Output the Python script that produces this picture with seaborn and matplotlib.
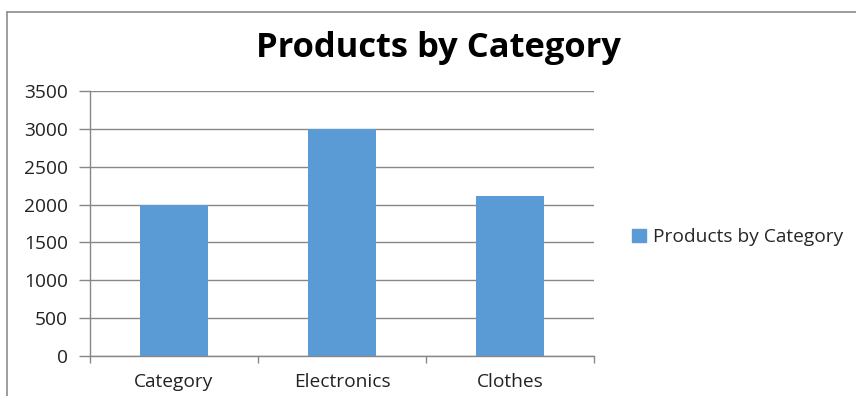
import matplotlib
matplotlib.use("Agg")
import matplotlib.pyplot as plt
import seaborn as sns
import pandas as pd
from matplotlib.lines import Line2D
from matplotlib.patches import Patch

categories = ["Category", "Electronics", "Clothes"]
values = [2000, 3000, 2110]
series_name = "Products by Category"
yticks = [0, 500, 1000, 1500, 2000, 2500, 3000, 3500]

sns.set_theme(style="white")
plt.rcParams['font.family'] = ['Open Sans', 'DejaVu Sans']

df = pd.DataFrame({"cat": categories, "val": values})
fig = plt.figure(figsize=(8.56, 3.96), dpi=100)
ax = fig.add_axes([90/856, 1-356/396, (594-90)/856, (356-91)/396])

color = "#5B9BD5"
sns.barplot(data=df, x="cat", y="val", color=color, width=0.4, ax=ax, saturation=1,
            linewidth=0)

ax.set_ylim(0, 3500)
ax.set_xlim(-0.5, 2.5)
ax.set_yticks(yticks)
ax.set_xlabel("")
ax.set_ylabel("")
grid_c = "#878787"
ax.yaxis.grid(True, color=grid_c, linewidth=1)
ax.set_axisbelow(True)
for s in ["top", "right"]:
    ax.spines[s].set_visible(False)
ax.spines["left"].set_color(grid_c)
ax.spines["bottom"].set_color(grid_c)
ax.spines["left"].set_linewidth(1)
ax.spines["bottom"].set_linewidth(1)
ax.tick_params(axis="y", left=True, length=8, width=1, color=grid_c, labelsize=13.8, labelcolor="#222222", pad=8)
ax.tick_params(axis="x", which="major", bottom=False, length=0, labelsize=13.8, labelcolor="#222222", pad=12)
ax.set_xticks([-0.5, 0.5, 1.5, 2.5], minor=True)
ax.tick_params(axis="x", which="minor", bottom=True, length=5, width=1, color=grid_c)

fig.text(438/856, 1-48/396, "Products by Category", ha="center", va="center",
         fontsize=24.8, fontweight="bold", color="black")

handle = Patch(facecolor=color, edgecolor=color)
fig.legend([handle], [series_name], loc="center left", bbox_to_anchor=(615/856, 1-237/396),
           frameon=False, fontsize=13.8, handlelength=0.7, handleheight=0.7, handletextpad=0.4)

fig.add_artist(Line2D([7/856, 1], [1-12/396, 1-12/396], color="#8c8c8c", linewidth=1.2, transform=fig.transFigure))
fig.add_artist(Line2D([7/856, 7/856], [0, 1-12/396], color="#8c8c8c", linewidth=1.2, transform=fig.transFigure))

fig.savefig("out.png", dpi=100)
